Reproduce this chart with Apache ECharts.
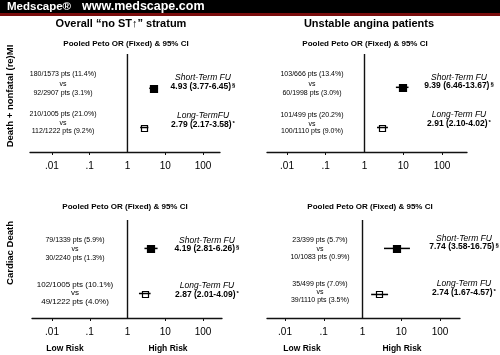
<!DOCTYPE html>
<html><head><meta charset="utf-8">
<script src="https://cdn.jsdelivr.net/npm/echarts@6/dist/echarts.min.js"></script>
<style>html,body{margin:0;padding:0;background:#fff}#c{width:500px;height:355px}</style>
</head><body><div id="c"></div>
<script>
const studyTitles = ['Overall \u201cno ST\u2191\u201d stratum', 'Unstable angina patients'];
const outcomeLabels = ['Death + nonfatal (re)MI', 'Cardiac Death'];
const ciTitle = 'Pooled Peto OR (Fixed) & 95% CI';
const tickValues = [0.01, 0.1, 1, 10, 100];
const tickLabels = ['.01', '.1', '1', '10', '100'];
const riskLabels = ['Low Risk', 'High Risk'];
// panels: 0 top-left, 1 top-right, 2 bottom-left, 3 bottom-right; rows: short-term, long-term
const followUpLabels = [['Short-Term FU', 'Long-TermFU'], ['Short-Term FU', 'Long-Term FU'], ['Short-Term FU', 'Long-Term FU'], ['Short-Term FU', 'Long-Term FU']];
const oddsRatio = [[4.93, 2.79], [9.39, 2.91], [4.19, 2.87], [7.74, 2.74]];
const ciLow = [[3.77, 2.17], [6.46, 2.10], [2.81, 2.01], [3.58, 1.67]];
const ciHigh = [[6.45, 3.58], [13.67, 4.02], [6.26, 4.09], [16.75, 4.57]];
const sigMarks = [['\u00a7', '*'], ['\u00a7', '*'], ['\u00a7', '*'], ['\u00a7', '*']];
const treatedCounts = [['180/1573 pts (11.4%)', '210/1005 pts (21.0%)'], ['103/666 pts (13.4%)', '101/499 pts (20.2%)'], ['79/1339 pts (5.9%)', '102/1005 pts (10.1%)'], ['23/399 pts (5.7%)', '35/499 pts (7.0%)']];
const controlCounts = [['92/2907 pts (3.1%)', '112/1222 pts (9.2%)'], ['60/1998 pts (3.0%)', '100/1110 pts (9.0%)'], ['30/2240 pts (1.3%)', '49/1222 pts (4.0%)'], ['10/1083 pts (0.9%)', '39/1110 pts (3.5%)']];

// ---- layout (not data) ----
const FONT = "'Liberation Sans', Arial, Helvetica, sans-serif";
const gridsLayout = [
  {left: 30, width: 190, top: 54, height: 98},
  {left: 267, width: 200, top: 54, height: 98},
  {left: 32, width: 190, top: 220, height: 98},
  {left: 267, width: 193, top: 220, height: 98}
];
const logExtent = [[-2.58, 2.45], [-2.516, 2.645], [-2.53, 2.503], [-2.465, 2.516]];
const rowPos = [[35, 75], [34, 75], [29, 75], [29, 76]];
const leftTextX = [63, 312, 75, 320];
const leftTextY = [[[74, 84, 93], [114, 123, 131]], [[74, 84, 93], [115, 124, 131]], [[240, 249, 258], [285, 293, 302]], [[240, 249, 257], [284, 292, 300]]];
const rightTextX = [203, 459, 207, 464];
const rightTextY = [[[78, 87], [116, 125]], [[78, 86], [115, 124]], [[241, 249], [286, 295]], [[239, 247], [284, 293]]];
const ciTitlePos = [[126, 44], [365, 44], [125, 207], [370, 207]];
const riskPos = [[65, 168, 349], [302, 402, 349]];

const chart = echarts.init(document.getElementById('c'), null, {renderer: 'canvas'});

const grid = [], xAxis = [], yAxis = [], series = [], graphic = [];

function fmtTick(v) {
  const i = tickValues.findIndex(t => Math.abs(Math.log10(t) - Math.log10(v)) < 1e-6);
  return i >= 0 ? tickLabels[i] : '';
}

for (let p = 0; p < 4; p++) {
  grid.push(Object.assign({containLabel: false}, gridsLayout[p]));
  xAxis.push({
    type: 'log', logBase: 10, gridIndex: p, position: 'bottom',
    min: Math.pow(10, logExtent[p][0]), max: Math.pow(10, logExtent[p][1]),
    axisLine: {show: true, onZero: false, lineStyle: {color: '#111', width: 1.3}},
    axisTick: {show: true, length: 3, customValues: [0.01, 0.1, 10, 100], lineStyle: {color: '#111', width: 1}},
    axisLabel: {show: true, customValues: tickValues, formatter: fmtTick, fontSize: 10, color: '#000', fontFamily: FONT, margin: 9},
    splitLine: {show: false}, minorTick: {show: false}
  });
  yAxis.push({type: 'value', gridIndex: p, min: 0, max: 100, inverse: true, show: false});

  // reference line at OR = 1
  series.push({
    type: 'line', xAxisIndex: p, yAxisIndex: p, silent: true, symbol: 'none', animation: false,
    lineStyle: {color: '#111', width: 1.4},
    data: [[1, 0], [1, 100]]
  });

  // forest markers
  const data = [0, 1].map(r => [ciLow[p][r], ciHigh[p][r], oddsRatio[p][r], rowPos[p][r], r]);
  series.push({
    type: 'custom', xAxisIndex: p, yAxisIndex: p, silent: true, animation: false,
    encode: {x: [0, 1, 2], y: 3},
    data: data,
    renderItem: function (params, api) {
      const y = api.value(3);
      const lo = api.coord([api.value(0), y]);
      const hi = api.coord([api.value(1), y]);
      const c = api.coord([api.value(2), y]);
      const filled = api.value(4) === 0;
      const s = filled ? 7 : 6;
      return {type: 'group', children: [
        {type: 'line', shape: {x1: lo[0], y1: lo[1], x2: hi[0], y2: hi[1]}, style: {stroke: '#000', lineWidth: 1.5}},
        {type: 'rect', shape: {x: Math.round(c[0] - s / 2) + 0.5, y: Math.round(c[1] - s / 2) + 0.5, width: s, height: s},
          style: {fill: filled ? '#000' : 'rgba(0,0,0,0)', stroke: '#000', lineWidth: 1.2}}
      ]};
    }
  });

  // CI title
  graphic.push({type: 'text', x: ciTitlePos[p][0], y: ciTitlePos[p][1], silent: true,
    style: {text: ciTitle, font: 'bold 8px ' + FONT, fill: '#000', align: 'center', verticalAlign: 'middle'}});

  for (let r = 0; r < 2; r++) {
    const fs = (p === 2 && r === 1) ? 8 : 7;
    const ly = leftTextY[p][r];
    [treatedCounts[p][r], 'vs', controlCounts[p][r]].forEach((t, k) => {
      graphic.push({type: 'text', x: leftTextX[p], y: ly[k], silent: true,
        style: {text: t, font: fs + 'px ' + FONT, fill: '#000', align: 'center', verticalAlign: 'middle'}});
    });
    const ry = rightTextY[p][r];
    graphic.push({type: 'text', x: rightTextX[p], y: ry[0], silent: true,
      style: {text: followUpLabels[p][r], font: 'italic 8.5px ' + FONT, fill: '#000', align: 'center', verticalAlign: 'middle'}});
    const val = oddsRatio[p][r].toFixed(2) + ' (' + ciLow[p][r].toFixed(2) + '-' + ciHigh[p][r].toFixed(2) + ')';
    graphic.push({type: 'text', x: rightTextX[p], y: ry[1], silent: true,
      style: {text: '{v|' + val + '}{s|' + sigMarks[p][r] + '}', align: 'center', verticalAlign: 'middle', fill: '#000',
        rich: {v: {font: 'bold 8.5px ' + FONT, fill: '#000'}, s: {font: 'bold 6px ' + FONT, fill: '#000', verticalAlign: 'top', padding: [0, 0, 3, 1]}}}});
  }
}

// header bar
graphic.push({type: 'rect', shape: {x: 0, y: 0, width: 500, height: 13}, style: {fill: '#000'}, silent: true});
graphic.push({type: 'rect', shape: {x: 0, y: 13, width: 500, height: 3}, style: {fill: '#7a0d0d'}, silent: true});
graphic.push({type: 'text', x: 7, y: 7, silent: true, style: {text: 'Medscape\u00ae', font: 'bold 11.5px ' + FONT, fill: '#fff', align: 'left', verticalAlign: 'middle'}});
graphic.push({type: 'text', x: 82, y: 7, silent: true, style: {text: 'www.medscape.com', font: 'bold 12.5px ' + FONT, fill: '#fff', align: 'left', verticalAlign: 'middle'}});

// study titles
graphic.push({type: 'text', x: 121, y: 24, silent: true, style: {text: studyTitles[0], font: 'bold 11px ' + FONT, fill: '#000', align: 'center', verticalAlign: 'middle'}});
graphic.push({type: 'text', x: 369, y: 24, silent: true, style: {text: studyTitles[1], font: 'bold 11px ' + FONT, fill: '#000', align: 'center', verticalAlign: 'middle'}});

// outcome labels (rotated)
graphic.push({type: 'text', x: 10, y: 96, rotation: Math.PI / 2, silent: true, style: {text: outcomeLabels[0], font: 'bold 9.5px ' + FONT, fill: '#000', align: 'center', verticalAlign: 'middle'}});
graphic.push({type: 'text', x: 10, y: 253, rotation: Math.PI / 2, silent: true, style: {text: outcomeLabels[1], font: 'bold 9.5px ' + FONT, fill: '#000', align: 'center', verticalAlign: 'middle'}});

// risk labels
riskPos.forEach(rp => {
  graphic.push({type: 'text', x: rp[0], y: rp[2], silent: true, style: {text: riskLabels[0], font: 'bold 8.5px ' + FONT, fill: '#000', align: 'center', verticalAlign: 'middle'}});
  graphic.push({type: 'text', x: rp[1], y: rp[2], silent: true, style: {text: riskLabels[1], font: 'bold 8.5px ' + FONT, fill: '#000', align: 'center', verticalAlign: 'middle'}});
});

chart.setOption({
  backgroundColor: '#fff',
  animation: false,
  grid: grid, xAxis: xAxis, yAxis: yAxis, series: series, graphic: graphic
});
</script></body></html>
